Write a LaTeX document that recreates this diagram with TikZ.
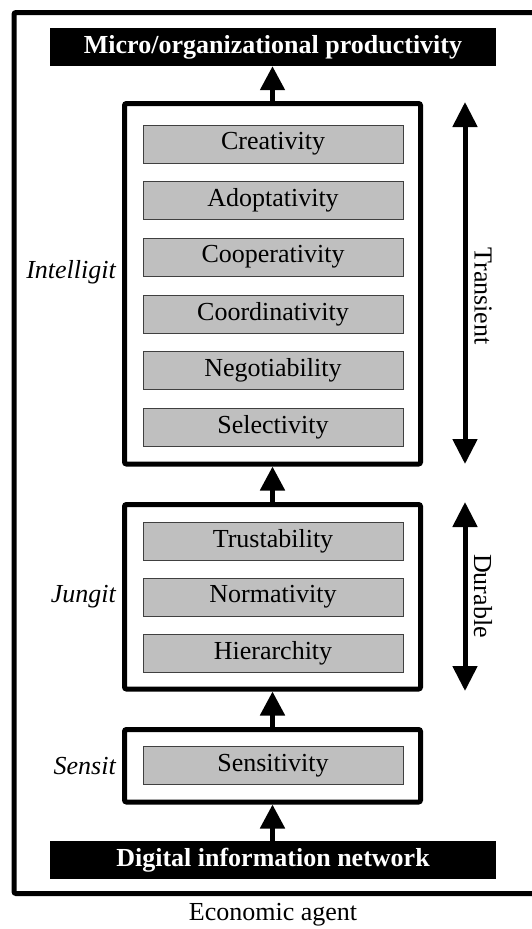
\documentclass[tikz,border=0pt]{standalone}
\usepackage{fontspec}
\setmainfont{Liberation Serif}
\usetikzlibrary{arrows.meta}
\tikzset{
  every node/.style={font=\fontsize{26}{30}\selectfont, inner sep=0pt},
  layer/.style={draw=black, line width=5pt, rounded corners=2pt, fill=white},
  trait/.style={draw=black!75, line width=0.8pt, fill=black!25, minimum width=260pt, minimum height=38pt},
  banner/.style={fill=black, text=white, font=\fontsize{26}{30}\selectfont\bfseries, minimum width=446pt, minimum height=38pt},
  levelname/.style={anchor=east, font=\fontsize{26}{30}\selectfont\itshape},
  flow/.style={line width=5pt, -{Triangle[width=24pt,length=24pt]}},
  span/.style={line width=5pt, {Triangle[width=24pt,length=25pt]}-{Triangle[width=24pt,length=25pt]}},
  spanlabel/.style={rotate=-90}
}
\begin{document}
\begin{tikzpicture}[x=1pt, y=-1pt]
  \useasboundingbox (0,0) rectangle (531,929);
  % economic agent frame (its right side runs past the page edge)
  \draw[line width=5pt, rounded corners=2pt] (560,12.5) -- (14,12.5) -- (14,893.5) -- (560,893.5);
  \node (agent) at (273,915) {Economic agent};

  % output and input banners
  \node[banner] (prod) at (273,47) {Micro/organizational productivity};
  \node[banner] (net) at (273,860) {Digital information network};

  % the three layers
  \node[layer, minimum width=296pt, minimum height=360.5pt] (intel) at (272.5,283.75) {};
  \node[layer, minimum width=296pt, minimum height=184.5pt] (jung) at (272.5,596.75) {};
  \node[layer, minimum width=296pt, minimum height=72.5pt] (sens) at (272.5,765.75) {};

  \node[levelname] (lintel) at (116,272) {Intelligit};
  \node[levelname] (ljung) at (116,597) {Jungit};
  \node[levelname] (lsens) at (116,766) {Sensit};

  % traits of each layer
  \node[trait] (t1) at (273,144) {Creativity};
  \node[trait] (t2) at (273,200) {Adoptativity};
  \node[trait] (t3) at (273,257) {Cooperativity};
  \node[trait] (t4) at (273,314) {Coordinativity};
  \node[trait] (t5) at (273,370) {Negotiability};
  \node[trait] (t6) at (273,427) {Selectivity};
  \node[trait] (t7) at (273,541) {Trustability};
  \node[trait] (t8) at (273,597) {Normativity};
  \node[trait] (t9) at (273,653) {Hierarchity};
  \node[trait] (t10) at (273,765.5) {Sensitivity};

  % upward flow between layers
  \draw[flow] (net.north -| sens.south) -- (sens.south);
  \draw[flow] (sens.north) -- (jung.south);
  \draw[flow] (jung.north) -- (intel.south);
  \draw[flow] (intel.north) -- (prod.south -| intel.north);

  % time scales
  \coordinate (tr1) at (465,102);
  \coordinate (tr2) at (465,464);
  \coordinate (du1) at (465,502);
  \coordinate (du2) at (465,691);
  \draw[span] (tr1) -- (tr2);
  \draw[span] (du1) -- (du2);
  \node[spanlabel] (ltr) at (483,296) {Transient};
  \node[spanlabel] (ldu) at (483,596) {Durable};
\end{tikzpicture}
\end{document}
